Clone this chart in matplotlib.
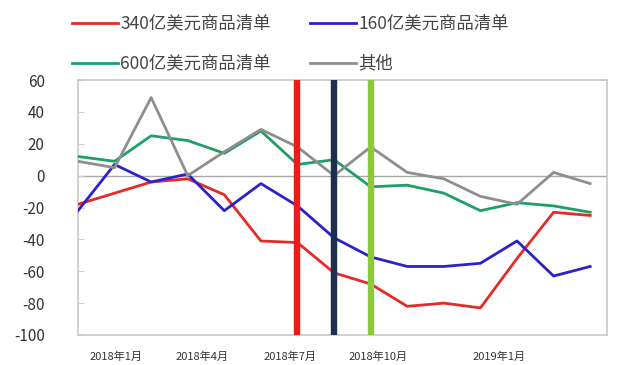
import numpy as np
import matplotlib
matplotlib.use("Agg")
import matplotlib.pyplot as plt
from matplotlib.lines import Line2D

plt.rcParams['font.family'] = ['Noto Sans CJK SC', 'DejaVu Sans']

# monthly points, 2017-12 .. 2019-02
months = np.arange(15)
list_340 = [-18, -11, -4, -2, -12, -41, -42, -61, -68, -82, -80, -83, -52, -23, -25]
list_160 = [-22, 7, -4, 1, -22, -5, -19, -39, -51, -57, -57, -55, -41, -63, -57]
list_600 = [12, 9, 25, 22, 14, 28, 7, 10, -7, -6, -11, -22, -17, -19, -23]
others = [9, 5, 49, 0, 15, 29, 18, 0, 18, 2, -2, -13, -18, 2, -5]

series_names = ["340亿美元商品清单", "160亿美元商品清单", "600亿美元商品清单", "其他"]
series_colors = ["#e52a2a", "#2b22cc", "#1f9e68", "#8e8e8e"]

# tariff rounds marked with vertical bars
event_pos = [6, 7, 8]
event_colors = ["#ee1a1a", "#1c2f4f", "#8cc83c"]

tick_pos = [1.05, 3.4, 5.8, 8.2, 11.5]
tick_labels = ["2018年1月", "2018年4月", "2018年7月", "2018年10月", "2019年1月"]
y_ticks = [-100, -80, -60, -40, -20, 0, 20, 40, 60]

fig = plt.figure(figsize=(6.17, 3.65), dpi=100)
ax = fig.add_axes([0.1264, 0.0822, 0.8574, 0.6986])

ax.axhline(0, color="#a8a8a8", lw=1.0, zorder=1)
for x, c in zip(event_pos, event_colors):
    ax.axvline(x, color=c, lw=4.6, zorder=4)

data = [list_340, list_160, list_600, others]
for vals, c in zip(data, series_colors):
    ax.plot(months, vals, color=c, lw=2.0, zorder=3)

ax.set_xlim(0, 14.46)
ax.set_ylim(-100, 60)
ax.set_yticks(y_ticks)
ax.set_yticklabels([str(v) for v in y_ticks], fontsize=11, color="#333333")
ax.set_xticks(tick_pos)
ax.set_xticklabels(tick_labels, fontsize=8, color="#333333")
ax.tick_params(axis="x", length=0, pad=12)
ax.tick_params(axis="y", direction="in", length=4, color="#d0d0d0", pad=22)
for lab in ax.get_yticklabels():
    lab.set_horizontalalignment("right")
    lab.set_x(-0.005)
for s in ax.spines.values():
    s.set_color("#c8c8c8")
    s.set_linewidth(1.2)

# legend drawn in figure pixels
W, H = 617, 365
legend_rows = [(72, 23), (310, 23), (72, 63), (310, 63)]
for (x0, y0), name, c in zip(legend_rows, series_names, series_colors):
    fig.add_artist(Line2D([x0 / W, (x0 + 46) / W], [1 - y0 / H, 1 - y0 / H],
                          color=c, lw=2.0, transform=fig.transFigure))
    fig.text((x0 + 48) / W, 1 - y0 / H, name, fontsize=12.5, color="#444444",
             va="center", ha="left")

fig.savefig("out.png", dpi=100)
